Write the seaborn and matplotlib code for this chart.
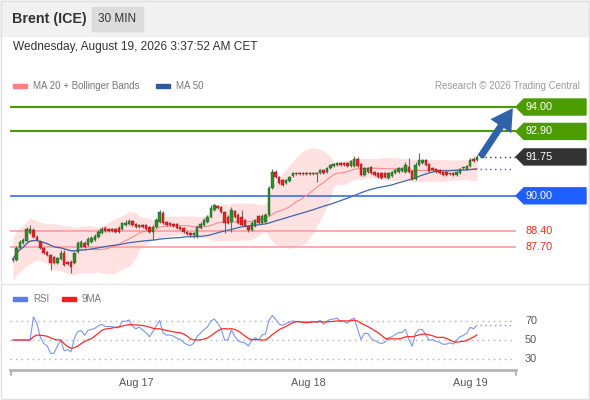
import numpy as np
import pandas as pd
import matplotlib
matplotlib.use("Agg")
import matplotlib.pyplot as plt
from matplotlib.patches import Rectangle, Polygon
from matplotlib.transforms import blended_transform_factory
import seaborn as sns

# ---------------- data ----------------
opens = [87.11, 87.11, 87.65, 87.87, 87.96, 88.32, 88.46, 88.14, 87.92, 87.65,
         87.47, 87.33, 87.24, 86.97, 87.15, 87.42, 87.02, 87.02, 86.97, 87.47,
         87.69, 87.87, 87.78, 87.92, 88.01, 88.14, 88.32, 88.55, 88.50, 88.50,
         88.50, 88.55, 88.50, 88.68, 88.73, 88.86, 88.73, 88.59, 88.68, 88.68,
         88.59, 88.37, 88.59, 88.82, 89.22, 88.82, 88.77, 88.73, 88.73, 88.59,
         88.55, 88.37, 88.32, 88.23, 88.19, 88.55, 88.68, 88.82, 89.04, 89.36,
         89.54, 89.50, 89.27, 89.04, 88.82, 89.31, 89.13, 89.04, 88.91, 88.64,
         88.46, 88.64, 89.09, 88.77, 88.82, 89.13, 90.35, 91.07, 90.85, 90.71,
         90.58, 90.67, 90.89, 91.03, 91.03, 91.03, 91.03, 91.03, 90.98, 91.03,
         91.03, 91.16, 91.07, 91.25, 91.34, 91.39, 91.48, 91.48, 91.48, 91.34,
         91.34, 91.66, 91.43, 90.94, 91.07, 91.30, 91.07, 91.03, 91.03, 91.03,
         90.80, 90.89, 91.03, 91.07, 91.12, 91.07, 91.30, 91.12, 90.76, 91.39,
         91.48, 91.61, 91.43, 91.25, 91.21, 91.16, 91.07, 91.07, 90.98, 91.03,
         90.94, 91.03, 91.25, 91.21, 91.34, 91.66, 91.61]
highs = [87.24, 87.74, 88.01, 88.10, 88.59, 88.68, 88.55, 88.23, 88.01, 87.69,
         87.51, 87.38, 87.29, 87.24, 87.56, 87.56, 87.06, 87.11, 87.47, 87.96,
         88.01, 87.96, 88.14, 88.19, 88.28, 88.46, 88.59, 88.64, 88.55, 88.55,
         88.55, 88.64, 88.82, 88.91, 88.95, 88.91, 88.77, 88.73, 88.73, 88.73,
         88.64, 88.68, 89.00, 89.36, 89.31, 88.86, 88.82, 88.77, 88.77, 88.64,
         88.59, 88.41, 88.37, 88.37, 88.68, 88.82, 89.00, 89.13, 89.59, 89.63,
         89.59, 89.54, 89.31, 89.13, 89.50, 89.36, 89.22, 89.36, 88.95, 88.68,
         88.86, 88.95, 89.13, 89.18, 89.22, 90.44, 91.21, 91.16, 90.89, 90.76,
         90.76, 90.89, 91.07, 91.07, 91.07, 91.07, 91.07, 91.07, 91.07, 91.07,
         91.21, 91.21, 91.30, 91.43, 91.48, 91.52, 91.52, 91.52, 91.52, 91.61,
         91.79, 91.75, 91.48, 91.30, 91.30, 91.34, 91.12, 91.07, 91.07, 91.07,
         91.07, 91.12, 91.21, 91.30, 91.30, 91.52, 91.70, 91.16, 91.52, 91.93,
         91.66, 91.66, 91.48, 91.30, 91.25, 91.21, 91.12, 91.12, 91.03, 91.07,
         91.12, 91.25, 91.30, 91.39, 91.70, 91.75, 91.84]
lows = [87.02, 87.06, 87.60, 87.83, 87.92, 88.28, 88.10, 87.96, 87.60, 87.38,
        87.29, 86.66, 86.93, 86.93, 87.11, 86.84, 86.88, 86.52, 86.93, 87.42,
        87.65, 87.65, 87.74, 87.87, 87.96, 88.10, 88.28, 88.37, 88.37, 88.37,
        88.32, 88.32, 88.46, 88.64, 88.68, 88.64, 88.55, 88.55, 88.55, 88.46,
        88.32, 88.01, 88.55, 88.77, 88.73, 88.64, 88.64, 88.59, 88.50, 88.46,
        88.32, 88.23, 88.14, 88.10, 88.10, 88.50, 88.64, 88.77, 89.00, 89.31,
        89.40, 89.22, 88.32, 88.73, 88.37, 89.00, 88.73, 88.64, 88.59, 88.37,
        88.41, 88.59, 88.73, 88.73, 88.77, 89.09, 90.31, 90.80, 90.53, 90.44,
        90.53, 90.62, 90.85, 90.94, 90.94, 90.94, 90.94, 90.94, 90.94, 90.62,
        90.98, 90.98, 91.03, 91.21, 91.30, 91.34, 91.34, 91.34, 91.30, 91.30,
        91.30, 91.30, 90.89, 90.89, 91.03, 90.98, 90.89, 90.80, 90.76, 90.80,
        90.76, 90.85, 90.98, 91.03, 91.07, 91.03, 91.03, 90.71, 90.71, 91.34,
        91.43, 91.34, 91.07, 91.12, 91.03, 90.98, 90.89, 90.89, 90.94, 90.89,
        90.89, 90.98, 91.21, 91.16, 91.30, 91.52, 91.57]
closes = [87.15, 87.65, 87.92, 88.01, 88.50, 88.50, 88.14, 88.01, 87.65, 87.42,
          87.33, 86.97, 86.97, 87.20, 87.42, 86.88, 86.93, 86.79, 87.42, 87.87,
          87.92, 87.69, 88.05, 88.10, 88.19, 88.37, 88.50, 88.41, 88.41, 88.41,
          88.37, 88.37, 88.77, 88.77, 88.86, 88.68, 88.59, 88.68, 88.59, 88.50,
          88.37, 88.59, 88.91, 89.27, 88.77, 88.68, 88.68, 88.64, 88.55, 88.50,
          88.37, 88.28, 88.23, 88.32, 88.59, 88.73, 88.91, 89.04, 89.45, 89.59,
          89.45, 89.27, 88.77, 88.77, 89.36, 89.04, 88.77, 88.68, 88.64, 88.46,
          88.77, 88.91, 88.77, 89.09, 89.13, 90.35, 91.07, 90.85, 90.58, 90.49,
          90.71, 90.85, 91.03, 90.98, 90.98, 90.98, 90.98, 90.98, 91.03, 90.98,
          91.16, 91.03, 91.25, 91.39, 91.43, 91.48, 91.39, 91.39, 91.34, 91.57,
          91.66, 91.34, 90.94, 91.25, 91.25, 91.03, 90.94, 90.85, 90.80, 90.85,
          91.03, 91.07, 91.16, 91.25, 91.25, 91.39, 91.07, 90.76, 91.39, 91.61,
          91.61, 91.39, 91.12, 91.16, 91.07, 91.03, 90.94, 90.94, 90.99, 90.94,
          91.07, 91.21, 91.26, 91.34, 91.61, 91.57, 91.75]

level_values = [94.00, 92.90, 91.75, 90.00, 88.40, 87.70]
level_labels = ["94.00", "92.90", "91.75", "90.00", "88.40", "87.70"]
target_price = 94.00
tick_labels = ["Aug 17", "Aug 18", "Aug 19"]
tick_candles = [36, 86.5, 134]
rsi_levels = [70, 50, 30]

# ---------------- derived indicators ----------------
df = pd.DataFrame({"open": opens, "high": highs, "low": lows, "close": closes})
df["i"] = np.arange(len(df))
df["ma20"] = df["close"].rolling(20, min_periods=1).mean()
std20 = df["close"].rolling(20, min_periods=5).std().bfill()
df["bb_up"] = df["ma20"] + 2 * std20
df["bb_lo"] = df["ma20"] - 2 * std20
df["ma50"] = df["close"].rolling(50, min_periods=1).mean()
delta = df["close"].diff().fillna(0)
gain = delta.clip(lower=0).ewm(alpha=1 / 14, adjust=True).mean()
loss = (-delta.clip(upper=0)).ewm(alpha=1 / 14, adjust=True).mean()
rsi = 100 - 100 / (1 + gain / loss.replace(0, np.nan))
df["rsi"] = rsi.fillna(50)
df["rsi9"] = df["rsi"].rolling(9, min_periods=1).mean()

# ---------------- styling ----------------
sns.set_theme(style="white")
plt.rcParams["font.family"] = ["Liberation Sans", "DejaVu Sans"]

W, H = 590, 400
fig = plt.figure(figsize=(5.9, 4.0), dpi=100)
fig.patch.set_facecolor("white")

def px_axes(x0, y0, x1, y1):
    return fig.add_axes([x0 / W, 1 - y1 / H, (x1 - x0) / W, (y1 - y0) / H])

bg = fig.add_axes([0, 0, 1, 1])
bg.set_xlim(0, W)
bg.set_ylim(H, 0)
bg.axis("off")
bg.add_patch(Rectangle((0, 0), W, 36, color="#f1f1f1", zorder=0))
bg.add_patch(Rectangle((92, 7), 51, 24, color="#dcdcdc", zorder=1))
bg.add_patch(Rectangle((0.5, 0.5), W - 2, H - 2, fill=False, ec="#e0e0e0", lw=1))
bg.plot([1, 588], [284, 284], color="#e6e6e6", lw=1)
bg.text(12, 19, "Brent (ICE)", fontsize=10.3, fontweight="bold", color="#333333", va="center")
bg.text(117.5, 19.5, "30 MIN", fontsize=8.5, color="#333333", va="center", ha="center")
bg.text(13, 47, "Wednesday, August 19, 2026 3:37:52 AM CET", fontsize=8.6,
        color="#333333", va="center")
# legends
bg.add_patch(Rectangle((13, 84), 14, 4, color="#ff8080"))
bg.text(33, 86, "MA 20 + Bollinger Bands", fontsize=7, color="#777777", va="center")
bg.add_patch(Rectangle((156, 84), 14, 4, color="#2f5b9c"))
bg.text(176, 86, "MA 50", fontsize=7, color="#777777", va="center")
bg.text(580, 86, "Research \u00a9 2026 Trading Central", fontsize=7, color="#9a9a9a",
        va="center", ha="right")
bg.add_patch(Rectangle((13, 297), 14, 4, color="#5b7fe0"))
bg.text(33, 299, "RSI", fontsize=7, color="#777777", va="center")
bg.add_patch(Rectangle((62, 297), 14, 4, color="#ff1a1a"))
bg.text(82, 299, "9MA", fontsize=7, color="#777777", va="center")
bg.plot([11, 11], [370, 375], color="#b5b5b5", lw=1.5)
bg.plot([515.5, 515.5], [370, 375], color="#b5b5b5", lw=1.5)

# ---------------- main price panel ----------------
step = 3.412
xl = (-3 / step, (516 - 13) / step)
ax = px_axes(10, 100, 516, 282)
ax.set_xlim(*xl)
ax.set_ylim(94 - 175 * 0.04505, 94 + 7 * 0.04505)
ax.axis("off")
ax.patch.set_alpha(0)

ax.fill_between(df["i"], df["bb_lo"], df["bb_up"], color="#ffe1e1", lw=0, zorder=1)
level_colors = ["#4c9a0a", "#4c9a0a", None, "#3a6ee8", "#f7a0a0", "#f7a0a0"]
for v, c in zip(level_values, level_colors):
    if c is not None:
        ax.axhline(v, color=c, lw=1.5 if c.startswith("#4c") else 1.2, zorder=2)

sns.lineplot(data=df, x="i", y="ma20", ax=ax, color="#ff8a8a", lw=0.8, zorder=3)
sns.lineplot(data=df, x="i", y="ma50", ax=ax, color="#3d66aa", lw=0.9, zorder=3)
ax.axis("off")

up = df["close"] >= df["open"]
body = (df["close"] - df["open"]).abs().clip(lower=0.025)
bottom = np.minimum(df["open"], df["close"])
ax.vlines(df["i"], df["low"], df["high"], color="#6a6a6a", lw=0.8, zorder=4)
ax.bar(df["i"], body, bottom=bottom, width=0.72,
       color=np.where(up, "#2e8b2e", "#e02424"),
       edgecolor=np.where(up, "#1e5e1e", "#a01818"), lw=0.3, zorder=5)

last_i = df["i"].iloc[-1]
last_c = df["close"].iloc[-1]
ax.plot([last_i + 1, xl[1]], [last_c, last_c], color="#333333", lw=1, ls=(0, (1, 2.5)), zorder=3)
ax.plot([last_i + 1, xl[1] - 1], [df["ma50"].iloc[-1]] * 2, color="#3d66aa", lw=1,
        ls=(0, (1, 2.5)), zorder=3)
ax.annotate("", xy=(last_i + 10.5, target_price - 0.05), xytext=(last_i + 1.0, last_c),
            arrowprops=dict(arrowstyle="simple,head_width=1.5,head_length=1.3,tail_width=0.42",
                            color="#2f62a8", lw=0, shrinkA=0, shrinkB=0), zorder=6)

tr = blended_transform_factory(ax.transAxes, ax.transData)
tag_colors = ["#4c9c00", "#4c9c00", "#333333", "#1f5fff", None, None]
hh = 8 * 0.04505
x0f, x1f, tipf = 1.0, 576 / 506, 8 / 506
lab_x = 515 / 506
for v, lab, c in zip(level_values, level_labels, tag_colors):
    if c is not None:
        poly = Polygon([(x0f, v), (x0f + tipf, v + hh), (x1f, v + hh), (x1f, v - hh),
                        (x0f + tipf, v - hh)], closed=True, color=c, transform=tr,
                       clip_on=False, zorder=7)
        ax.add_patch(poly)
        ax.text(lab_x, v, lab, transform=tr, color="white", fontsize=7.8, va="center",
                ha="left", clip_on=False, zorder=8)
    else:
        ax.text(lab_x, v, lab, transform=tr, color="#e0301e", fontsize=7.8, va="center",
                ha="left", clip_on=False)

# ---------------- RSI panel ----------------
ax2 = px_axes(10, 305, 516, 370)
ax2.set_xlim(*xl)
ax2.set_ylim(50 - 30 / 0.95, 50 + 35 / 0.95)
for lv in rsi_levels:
    ax2.axhline(lv, color="#b0b0b0", lw=1, ls=(0, (1, 3)))
sns.lineplot(data=df, x="i", y="rsi", ax=ax2, color="#7b96ea", lw=0.8)
sns.lineplot(data=df, x="i", y="rsi9", ax=ax2, color="#ff2a2a", lw=0.9)
ax2.plot([last_i + 1, xl[1] - 1], [df["rsi"].iloc[-1]] * 2, color="#7b96ea", lw=1,
         ls=(0, (1, 2.5)))
tr2 = blended_transform_factory(ax2.transAxes, ax2.transData)
for lv in rsi_levels:
    ax2.text(lab_x, lv, str(lv), transform=tr2, color="#555555", fontsize=7.8,
             va="center", ha="left")
for s in ["top", "right", "left"]:
    ax2.spines[s].set_visible(False)
ax2.spines["bottom"].set_color("#b5b5b5")
ax2.spines["bottom"].set_linewidth(2)
ax2.set_yticks([])
ax2.set_xticks(tick_candles)
ax2.set_xticklabels(tick_labels, fontsize=7.8, color="#555555")
ax2.tick_params(axis="x", length=0, pad=6)
ax2.set_xlabel("")
ax2.set_ylabel("")
ax2.patch.set_alpha(0)

fig.savefig("out.png", dpi=100, facecolor="white")
